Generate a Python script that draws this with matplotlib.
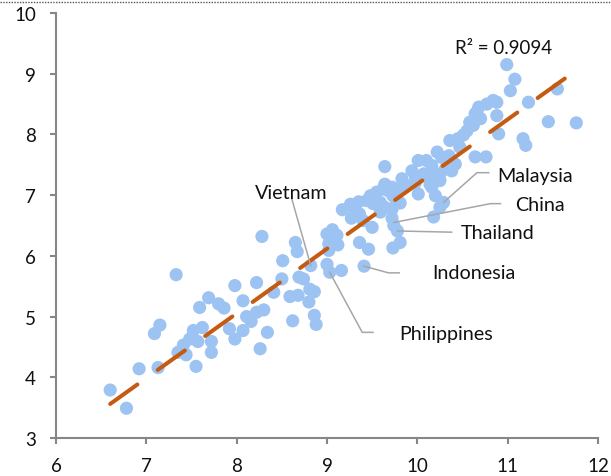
import numpy as np
import matplotlib
matplotlib.use("Agg")
import matplotlib.pyplot as plt
from matplotlib.lines import Line2D

# ---- data ----
x_vals = [
    6.60, 6.78, 6.92, 7.13, 7.09, 7.15, 7.33, 7.35, 7.44, 7.41,
    7.55, 7.52, 7.62, 7.48, 7.57, 7.59, 7.69, 7.80, 7.86, 7.72,
    7.72, 7.92, 7.98, 8.07, 8.07, 7.98, 8.11, 8.16, 8.22, 8.26,
    8.34, 8.22, 8.30, 8.28, 8.41, 8.51, 8.50, 8.62, 8.59, 8.68,
    8.65, 8.67, 8.69, 8.74, 8.80, 8.86, 8.82, 8.86, 8.88, 8.81,
    9.00, 9.06, 9.11, 9.02, 9.12, 9.02, 9.00, 9.03, 9.16, 9.17,
    9.26, 9.35, 9.27, 9.36, 9.40, 9.29, 9.48, 9.55, 9.64, 9.64,
    9.50, 9.36, 9.46, 9.41, 9.59, 9.64, 9.72, 9.77, 9.73, 9.81,
    9.72, 9.74, 9.78, 9.44, 9.51, 9.59, 9.53, 9.68, 9.72, 9.83,
    9.88, 9.98, 9.81, 9.94, 9.98, 9.62, 9.73, 9.81,
    10.01, 10.10, 10.16, 10.07, 10.14, 10.20, 10.25, 10.14, 10.16, 10.25,
    10.01, 10.20, 10.29, 10.25, 10.18, 10.42, 10.37, 10.31, 10.38, 10.22,
    10.27, 10.35, 10.36, 10.45, 10.47, 10.64, 10.76, 10.58, 10.55, 10.51,
    10.68, 10.64, 10.70, 10.77, 10.84, 10.88, 10.88, 10.90, 10.99, 11.08,
    11.03, 11.55, 11.45, 11.76, 11.23, 11.17, 11.20, 10.66, 10.62,
]
y_vals = [
    3.79, 3.49, 4.14, 4.16, 4.72, 4.86, 5.69, 4.41, 4.37, 4.53,
    4.18, 4.77, 4.82, 4.63, 4.59, 5.15, 5.31, 5.21, 5.14, 4.59,
    4.41, 4.80, 4.63, 4.77, 5.26, 5.51, 5.00, 4.92, 5.56, 4.47,
    4.74, 5.07, 5.11, 6.32, 5.40, 5.92, 5.62, 4.93, 5.33, 5.35,
    6.22, 6.07, 5.65, 5.62, 5.24, 5.41, 5.84, 5.02, 4.87, 5.45,
    6.36, 6.43, 6.34, 6.20, 6.18, 6.09, 5.86, 5.73, 5.76, 6.76,
    6.85, 6.89, 6.62, 6.69, 6.58, 6.80, 6.99, 7.05, 7.18, 7.47,
    6.47, 6.22, 6.11, 5.83, 6.72, 6.80, 6.77, 6.88, 6.13, 6.22,
    6.62, 6.50, 6.41, 6.91, 6.86, 6.88, 6.99, 7.07, 7.13, 7.27,
    7.16, 7.21, 6.87, 7.40, 7.30, 7.10, 6.99, 7.10,
    7.57, 7.57, 7.49, 7.35, 7.27, 7.32, 7.35, 7.18, 7.13, 7.24,
    7.02, 6.99, 6.88, 6.80, 6.64, 7.51, 7.49, 7.43, 7.40, 7.71,
    7.62, 7.65, 7.90, 7.93, 7.79, 7.63, 7.63, 8.20, 8.06, 7.99,
    8.45, 8.34, 8.26, 8.50, 8.56, 8.53, 8.31, 8.01, 9.15, 8.91,
    8.72, 8.75, 8.21, 8.19, 8.53, 7.93, 7.82, 8.37, 8.15,
]
# linear trend line (y = slope * x + intercept)
trend_slope = 1.065
trend_intercept = -3.468
x_ticks = [6, 7, 8, 9, 10, 11, 12]
y_ticks = [3, 4, 5, 6, 7, 8, 9, 10]
r2_label = "R\u00b2 = 0.9094"

# labelled countries: name, point (x, y)
countries = ["Vietnam", "Malaysia", "China", "Thailand", "Indonesia", "Philippines"]
country_pts = [(8.82, 5.84), (10.29, 6.88), (9.74, 6.55), (9.78, 6.41), (9.41, 5.83), (9.03, 5.73)]

# ---- layout (label positions, leader bends) ----
label_pos = {
    "Vietnam": (8.60, 7.05, "center"),
    "Malaysia": (10.89, 7.33, "left"),
    "China": (11.08, 6.84, "left"),
    "Thailand": (10.48, 6.39, "left"),
    "Indonesia": (10.16, 5.72, "left"),
    "Philippines": (9.80, 4.72, "left"),
}
leader_path = {
    "Vietnam": [(8.61, 6.94)],
    "Malaysia": [(10.66, 7.37), (10.79, 7.37)],
    "China": [(10.81, 6.86), (10.92, 6.86)],
    "Thailand": [(10.38, 6.39)],
    "Indonesia": [(9.68, 5.72), (9.80, 5.72)],
    "Philippines": [(9.39, 4.74), (9.51, 4.74)],
}

plt.rcParams['font.family'] = ['Lato', 'DejaVu Sans']

fig = plt.figure(figsize=(6.11, 4.77), dpi=100)
ax = fig.add_axes([56/611, 38/477, (598-56)/611, (439-14)/477])

dot_color = '#9dc3f2'
trend_color = '#c55a11'
axis_color = '#868686'
text_color = '#111111'

x = np.array(x_vals)
y = np.array(y_vals)
ax.scatter(x, y, s=90, color=dot_color, edgecolors='none', zorder=2)

tx = np.array([x.min(), x.max()])
ax.plot(tx, trend_slope*tx + trend_intercept, color=trend_color, lw=2.9,
        solid_capstyle='round', dash_capstyle='round',
        linestyle=(0, (8.3, 6.2)), zorder=3)

ax.text(10.95, 9.43, r2_label, ha='center', va='center', fontsize=13.5, color=text_color)

for name, pt in zip(countries, country_pts):
    lx, ly, ha = label_pos[name]
    path = leader_path[name]
    xs = [pt[0]] + [p[0] for p in path]
    ys = [pt[1]] + [p[1] for p in path]
    ax.plot(xs, ys, color='#a6a6a6', lw=1.1, zorder=4)
    ax.text(lx, ly, name, ha=ha, va='center', fontsize=14.2, color=text_color, zorder=5)

ax.set_xlim(6, 12)
ax.set_ylim(3, 10)
ax.set_xticks(x_ticks)
ax.set_yticks(y_ticks)
ax.set_xticklabels([str(t) for t in x_ticks])
ax.set_yticklabels([str(t) for t in y_ticks])
for s in ['top', 'right']:
    ax.spines[s].set_visible(False)
for s in ['left', 'bottom']:
    ax.spines[s].set_color(axis_color)
    ax.spines[s].set_linewidth(1.5)
ax.tick_params(axis='both', direction='out', length=4.5, width=1.5, color=axis_color,
               labelsize=13.5, labelcolor=text_color)
ax.tick_params(axis='x', pad=9)
ax.tick_params(axis='y', pad=10)

fig.add_artist(Line2D([0, 1], [1 - 2.5/477, 1 - 2.5/477], transform=fig.transFigure,
                      color='#555555', lw=1.0, linestyle=(0, (1, 1))))

fig.savefig("out.png", dpi=100)
